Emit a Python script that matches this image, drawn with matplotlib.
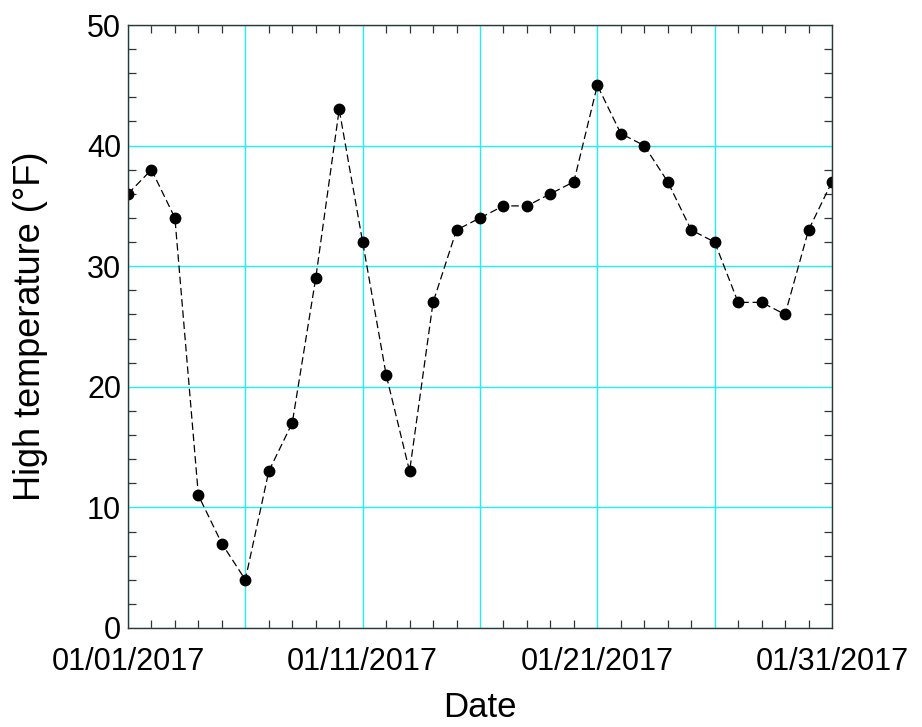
import matplotlib
matplotlib.use('Agg')
import matplotlib.pyplot as plt
import matplotlib.dates as mdates
import matplotlib.ticker as mticker
import numpy as np
import datetime as dt

plt.rcParams['font.family'] = ['Liberation Sans', 'DejaVu Sans']

# 数据: 2017年1月每日最高气温
days = np.arange(1, 32)
high_temp = [36, 38, 34, 11, 7, 4, 13, 17, 29, 43,
             32, 21, 13, 27, 33, 34, 35, 35, 36, 37,
             45, 41, 40, 37, 33, 32, 27, 27, 26, 33, 37]
dates = [dt.date(2017, 1, int(d)) for d in days]
label_days = [1, 11, 21, 31]

fig = plt.figure(figsize=(9.22, 7.27), dpi=100)
ax = fig.add_axes([0.1388, 0.1362, 0.7636, 0.8294])

ax.plot(dates, high_temp, color='k', linestyle=(0, (6, 3)), linewidth=0.9,
        marker='o', markersize=7.5, markerfacecolor='k', markeredgecolor='k')

ax.set_xlim(dt.date(2017, 1, 1), dt.date(2017, 1, 31))
ax.set_ylim(0, 50)

# 刻度
ax.xaxis.set_major_locator(mdates.DayLocator(bymonthday=[1, 6, 11, 16, 21, 26, 31]))
ax.xaxis.set_minor_locator(mdates.DayLocator())

def fmt_date(x, pos):
    d = mdates.num2date(x)
    if d.day in label_days:
        return d.strftime('%m/%d/%Y')
    return ''

ax.xaxis.set_major_formatter(mticker.FuncFormatter(fmt_date))
ax.yaxis.set_major_locator(mticker.MultipleLocator(10))
ax.yaxis.set_minor_locator(mticker.MultipleLocator(2))

ax.tick_params(which='both', direction='in', top=True, right=True, colors='#333333')
ax.tick_params(which='major', length=0, labelsize=22, labelcolor='k')
ax.tick_params(axis='x', which='major', pad=14)
ax.tick_params(axis='y', which='major', pad=5)
ax.tick_params(which='minor', length=6, width=0.9)

ax.grid(True, which='major', color='#22f0f0', linewidth=1.0)
ax.set_axisbelow(True)

for s in ax.spines.values():
    s.set_color('#333333')
    s.set_linewidth(1.0)

ax.set_xlabel('Date', fontsize=25, labelpad=10)
ax.set_ylabel('High temperature (°F)', fontsize=26, labelpad=28)

fig.savefig('out.png', dpi=100)
